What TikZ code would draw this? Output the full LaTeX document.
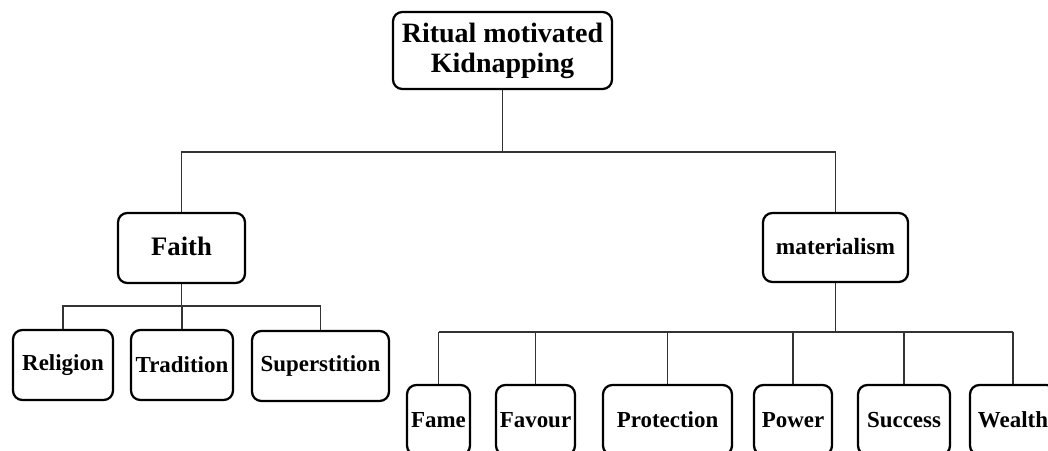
\documentclass[tikz,border=0pt]{standalone}
\usepackage{fontspec}
\setmainfont{Liberation Serif}
\usetikzlibrary{calc}
\definecolor{linkgray}{HTML}{333333}
\tikzset{
  motive/.style={draw=black,line width=1.7pt,rounded corners=7pt,inner sep=0pt,align=center,
    font=\bfseries\fontsize{17.2}{19}\selectfont},
  link/.style={draw=linkgray,line width=1.4pt}
}
\newcommand{\motivebox}[6]{%
  \node[motive,minimum width=#4*0.75pt,minimum height=#5*0.75pt] (#1) at (#2,#3) {#6};
}

\begin{document}
\begin{tikzpicture}[x=0.75pt,y=-0.75pt]
  \useasboundingbox (0,0) rectangle (1048,450);
  \clip (0,0) rectangle (1048,450);
  \node[motive,minimum width=219*0.75pt,minimum height=77*0.75pt,
        font=\bfseries\fontsize{21}{22.5}\selectfont] (root) at (502.5,50.5) {Ritual motivated\\Kidnapping};
  \motivebox{faith}{181.5}{248}{127}{70}{\raisebox{3pt}{\fontsize{20}{22}\selectfont Faith}}
  \motivebox{mat}{835.5}{247.5}{145}{69}{\raisebox{2pt}{\fontsize{17.5}{19}\selectfont materialism}}
  \coordinate (rootj) at (502.5,152);
  \draw[link] (root.south) -- (rootj);
  \draw[link] (faith.north) |- (rootj) -| (mat.north);
  \motivebox{relig}{63}{365}{100}{70}{\raisebox{-3pt}{Religion}}
  \motivebox{trad}{182}{365}{102}{70}{\raisebox{-3pt}{Tradition}}
  \motivebox{super}{320.5}{366}{137}{70}{\raisebox{-2pt}{Superstition}}
  \coordinate (faithj) at (181.5,306);
  \draw[link] (faith.south) -- (faithj);
  \draw[link] (relig.north) |- (faithj) -| (super.north);
  \draw[link] (trad.north) -- (trad.north |- faithj);
  \coordinate (matj) at (835.5,332);
  \draw[link] (mat.south) -- (matj);
  \foreach \n/\x/\w/\t in {fame/438.5/63/Fame, favour/535.5/79/Favour, protect/667.5/129/Protection,
                           power/793/78/Power, success/904/92/Success, wealth/1013/86/Wealth} {
    \motivebox{\n}{\x}{420}{\w}{70}{\t}
    \draw[link] (\n.north) -- (\n.north |- matj);
  }
  \draw[link] (fame.north |- matj) -- (wealth.north |- matj);
\end{tikzpicture}
\end{document}
